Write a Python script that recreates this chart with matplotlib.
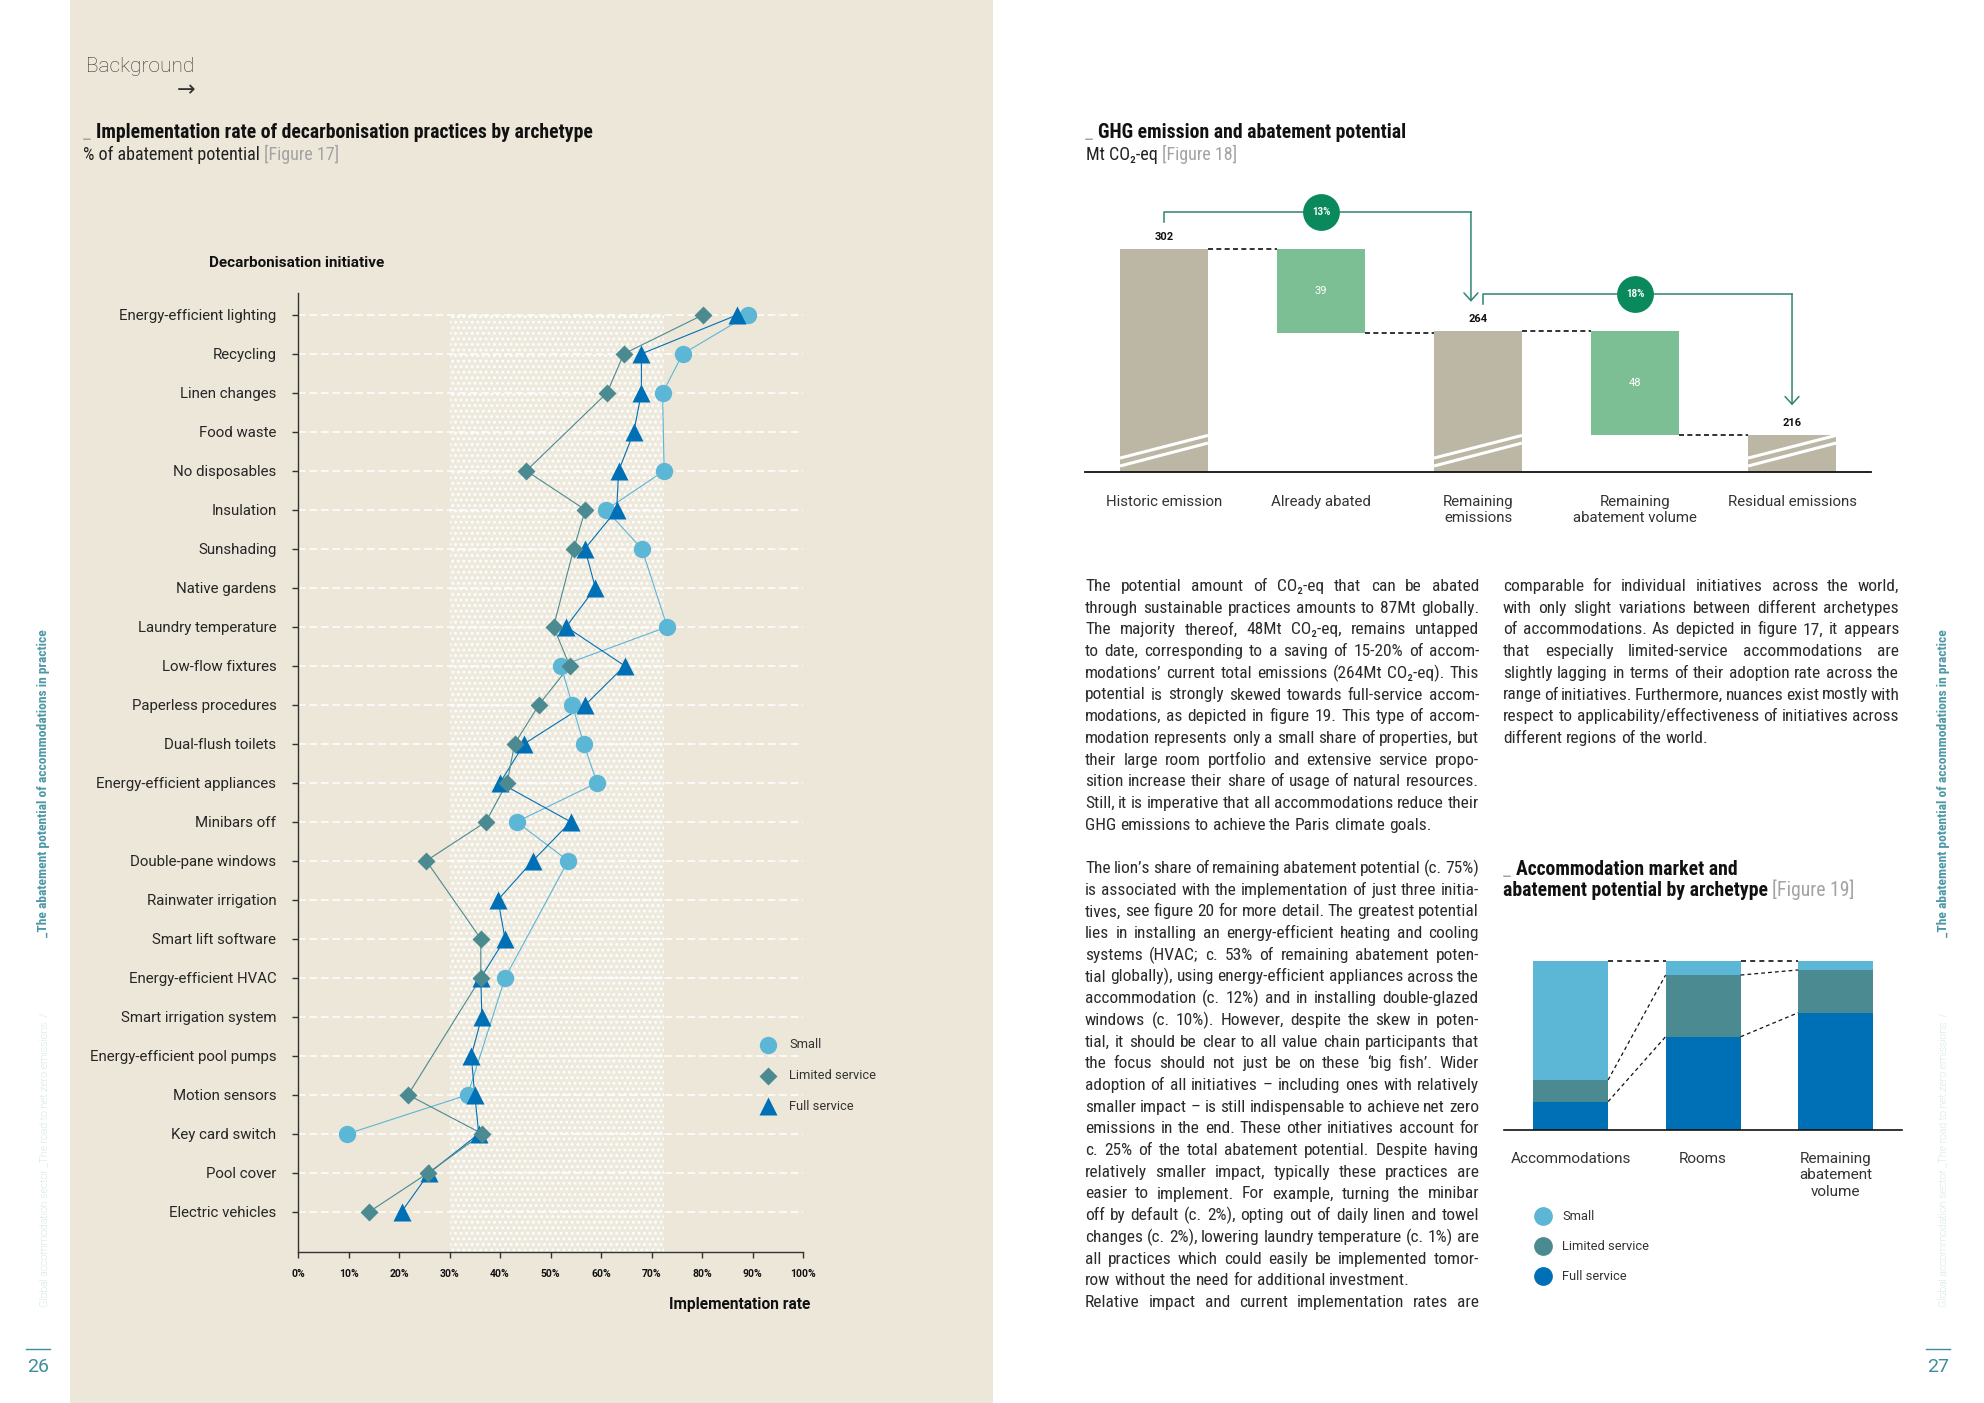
import numpy as np
import matplotlib
matplotlib.use('Agg')
import matplotlib.pyplot as plt
from matplotlib import font_manager
from matplotlib.patches import Rectangle
from matplotlib.lines import Line2D
from matplotlib.transforms import blended_transform_factory

W, H = 1984, 1403
BEIGE = '#EDE7D9'
INK = '#2B2B2B'
GREY = '#A3A3A3'

# ── Figure 17: implementation rate (%) per initiative, nan = no marker ──
INITIATIVES = [
    'Energy-efficient lighting', 'Recycling', 'Linen changes', 'Food waste',
    'No disposables', 'Insulation', 'Sunshading', 'Native gardens',
    'Laundry temperature', 'Low-flow fixtures', 'Paperless procedures',
    'Dual-flush toilets', 'Energy-efficient appliances', 'Minibars off',
    'Double-pane windows', 'Rainwater irrigation', 'Smart lift software',
    'Energy-efficient HVAC', 'Smart irrigation system',
    'Energy-efficient pool pumps', 'Motion sensors', 'Key card switch',
    'Pool cover', 'Electric vehicles',
]
nan = np.nan
SMALL = [89.2, 76.2, 72.2, nan, 72.5, 61.0, 68.1, nan, 73.1, 52.1, 54.3, 56.6,
         59.2, 43.3, 53.5, nan, nan, 41.0, nan, nan, 33.6, 9.8, nan, nan]
LIMITED = [80.2, 64.5, 61.2, nan, 45.2, 56.9, 54.6, nan, 50.6, 53.8, 47.7, 42.9,
           41.4, 37.2, 25.4, nan, 36.2, 36.2, nan, nan, 21.8, 36.5, 25.8, 14.1]
FULL = [87.0, 68.0, 68.0, 66.5, 63.5, 63.1, 56.8, 58.9, 53.1, 64.7, 56.9, 44.8,
        40.0, 54.0, 46.5, 39.6, 41.0, 36.2, 36.4, 34.3, 35.0, 35.8, 26.0, 20.5]
BAND_LO, BAND_HI = 30, 72.5
PCT_TICKS = list(range(0, 101, 10))

# ── Figure 18: GHG emission waterfall (Mt CO2-eq) ──
WF_LABELS = ['Historic emission', 'Already abated', 'Remaining\nemissions',
             'Remaining\nabatement volume', 'Residual emissions']
WF_VALUES = [302, 39, 264, 48, 216]
WF_IS_TOTAL = [True, False, True, False, True]
WF_SHARES = ['13%', '18%']

# ── Figure 19: market share by archetype (%) ──
MKT_LABELS = ['Accommodations', 'Rooms', 'Remaining\nabatement\nvolume']
MKT_FULL = [16.8, 55.2, 69.4]
MKT_LIMITED = [12.8, 36.5, 25.3]
MKT_SMALL = [70.4, 8.3, 5.3]
ARCHETYPES = ['Small', 'Limited service', 'Full service']

COL_SMALL = '#5CB6D5'
COL_LIMITED = '#4B8A91'
COL_FULL = '#0070B6'

PARA_LEFT_1 = [
    "The potential amount of CO\u2082-eq that can be abated",
    "through sustainable practices amounts to 87Mt globally.",
    "The majority thereof, 48Mt CO\u2082-eq, remains untapped",
    "to date, corresponding to a saving of 15-20% of accom-",
    "modations\u2019 current total emissions (264Mt CO\u2082-eq). This",
    "potential is strongly skewed towards full-service accom-",
    "modations, as depicted in figure 19. This type of accom-",
    "modation represents only a small share of properties, but",
    "their large room portfolio and extensive service propo-",
    "sition increase their share of usage of natural resources.",
    "Still, it is imperative that all accommodations reduce their",
    "GHG emissions to achieve the Paris climate goals.",
]
PARA_LEFT_2 = [
    "The lion\u2019s share of remaining abatement potential (c. 75%)",
    "is associated with the implementation of just three initia-",
    "tives, see figure 20 for more detail. The greatest potential",
    "lies in installing an energy-efficient heating and cooling",
    "systems (HVAC; c. 53% of remaining abatement poten-",
    "tial globally), using energy-efficient appliances across the",
    "accommodation (c. 12%) and in installing double-glazed",
    "windows (c. 10%). However, despite the skew in poten-",
    "tial, it should be clear to all value chain participants that",
    "the focus should not just be on these \u2018big fish\u2019. Wider",
    "adoption of all initiatives \u2013 including ones with relatively",
    "smaller impact \u2013 is still indispensable to achieve net zero",
    "emissions in the end. These other initiatives account for",
    "c. 25% of the total abatement potential. Despite having",
    "relatively smaller impact, typically these practices are",
    "easier to implement. For example, turning the minibar",
    "off by default (c. 2%), opting out of daily linen and towel",
    "changes (c. 2%), lowering laundry temperature (c. 1%) are",
    "all practices which could easily be implemented tomor-",
    "row without the need for additional investment.",
]
PARA_LEFT_3 = ["Relative impact and current implementation rates are"]
PARA_RIGHT = [
    "comparable for individual initiatives across the world,",
    "with only slight variations between different archetypes",
    "of accommodations. As depicted in figure 17, it appears",
    "that especially limited-service accommodations are",
    "slightly lagging in terms of their adoption rate across the",
    "range of initiatives. Furthermore, nuances exist mostly with",
    "respect to applicability/effectiveness of initiatives across",
    "different regions of the world.",
]

_names = {f.name for f in font_manager.fontManager.ttflist}


def pick(*cands):
    for c in cands:
        if c in _names:
            return c
    return 'DejaVu Sans'


NARROW = pick('Liberation Sans Narrow', 'Roboto Condensed', 'Liberation Sans')
UI = pick('Roboto', 'Lato', 'Noto Sans')
BODY_FAM = [NARROW, 'DejaVu Sans']
plt.rcParams['hatch.linewidth'] = 1.3

fig = plt.figure(figsize=(W / 100, H / 100), dpi=100)
fig.patch.set_facecolor('white')
renderer = fig.canvas.get_renderer()


def fx(x):
    return x / W


def fy(y):
    return 1 - y / H


def axes_px(x0, y0, x1, y1):
    return fig.add_axes([fx(x0), fy(y1), (x1 - x0) / W, (y1 - y0) / H])


def put(x, y, s, **kw):
    return fig.text(fx(x), fy(y), s, **kw)


def width_of(s, **kw):
    t = fig.text(0, 0, s, **kw)
    w = t.get_window_extent(renderer).width
    t.remove()
    return w


def space_of(**kw):
    return width_of('n n', **kw) - width_of('nn', **kw)


def put_runs(x, y, runs):
    for s, kw in runs:
        t = put(x, y, s, ha='left', va='baseline', **kw)
        x += t.get_window_extent(renderer).width + space_of(**kw)


def justify_block(lines, x0, x1, y0, step, size, last_left=True):
    kw = dict(family=BODY_FAM, size=size, color=INK)
    sp = space_of(**kw)
    for i, line in enumerate(lines):
        words = line.split()
        ws = [width_of(w, **kw) for w in words]
        last = last_left and i == len(lines) - 1
        if last or len(words) < 2:
            gap = sp
        else:
            gap = (x1 - x0 - sum(ws)) / (len(words) - 1)
        x = x0
        for w, wd in zip(words, ws):
            put(x, y0 + i * step, w, ha='left', va='baseline', **kw)
            x += wd + gap


def natural_ratio(lines, width, size, squeeze=0.6):
    kw = dict(family=BODY_FAM, size=size)
    sp = space_of(**kw) * squeeze
    r = 0
    for line in lines:
        words = line.split()
        tot = sum(width_of(w, **kw) for w in words) + sp * (len(words) - 1)
        r = max(r, tot / width)
    return r


# page background
fig.add_artist(Rectangle((fx(70), 0), (993 - 70) / W, 1, transform=fig.transFigure,
                         facecolor=BEIGE, edgecolor='none', zorder=0))

put(86, 66, 'Background', family=UI, weight='light', size=15, color='#333333',
    ha='left', va='center')
put(186, 90, '\u2192', family='DejaVu Sans', size=16, color='#333333',
    ha='center', va='center')

TITLE = dict(family=BODY_FAM, size=14.2, weight='bold', color='#111111')
TITLE_U = dict(family=BODY_FAM, size=14.2, color=GREY)
SUB = dict(family=BODY_FAM, size=13, color='#222222')
SUB_G = dict(family=BODY_FAM, size=13, color=GREY)

# ── Figure 17 ──
put_runs(83, 138, [('_', TITLE_U),
                   ('Implementation rate of decarbonisation practices by archetype', TITLE)])
put_runs(83, 160, [('% of abatement potential', SUB), ('[Figure 17]', SUB_G)])
put(209, 263, 'Decarbonisation initiative', family=UI, weight='bold', size=11,
    color='#111111', ha='left', va='center')

n = len(INITIATIVES)
rows = np.arange(n)
ax = axes_px(298, 293, 803, 1252)
ax.set_facecolor('none')
ax.set_xlim(0, 100)
ax.set_ylim(n - 1 + 1.03, -0.56)
ax.add_patch(Rectangle((BAND_LO, 0), BAND_HI - BAND_LO, n + 1, facecolor='#EEE9DD',
                       edgecolor='white', hatch='...', lw=0, zorder=0.5))
ax.hlines(rows, 0, 100, colors='white', linestyles=(0, (5, 2.5)), lw=1.1, zorder=1)

series = [(SMALL, COL_SMALL, 'o', 12.5, 3), (FULL, COL_FULL, '^', 13, 4),
          (LIMITED, COL_LIMITED, 'D', 9.3, 5)]
for vals, col, mk, ms, z in series:
    arr = np.array(vals, dtype=float)
    m = ~np.isnan(arr)
    ax.plot(arr[m], rows[m], color=col, lw=0.8, zorder=2)
    ax.plot(arr[m], rows[m], ls='none', marker=mk, ms=ms, color=col, mec='none', zorder=z)

ax.set_yticks(rows, INITIATIVES)
ax.set_xticks(PCT_TICKS, [f'{v}%' for v in PCT_TICKS])
ax.tick_params(axis='y', length=4.5, width=1, color='#333333', pad=11,
               labelsize=10.8, labelcolor='#262626')
ax.tick_params(axis='x', length=4, width=1, color='#333333', pad=8,
               labelsize=7.5, labelcolor='#111111')
for lab in ax.get_yticklabels():
    lab.set_family(UI)
for lab in ax.get_xticklabels():
    lab.set_family(UI)
    lab.set_weight('bold')
for s in ('top', 'right'):
    ax.spines[s].set_visible(False)
for s in ('left', 'bottom'):
    ax.spines[s].set_color('#333333')
    ax.spines[s].set_linewidth(1)

put(810, 1304, 'Implementation rate', family=UI, weight='bold', size=11.2,
    color='#111111', ha='right', va='center')

for k, (name, (vals, col, mk, ms, z)) in enumerate(zip(ARCHETYPES, [series[0], series[2], series[1]])):
    yy = 1045 + k * 30.5
    fig.add_artist(Line2D([fx(768)], [fy(yy)], marker=mk, ms=ms, color=col, mec='none',
                          ls='none', transform=fig.transFigure))
    put(789, yy, name, family=UI, size=9.3, color='#333333', ha='left', va='center')

# ── Figure 18 ──
put_runs(1085, 138, [('_', TITLE_U), ('GHG emission and abatement potential', TITLE)])
put_runs(1086, 160, [('Mt CO\u2082-eq', SUB), ('[Figure 18]', SUB_G)])

PX_PER_MT = 2.158
Y_FLOOR = 198.7
ax2 = axes_px(1085, 199, 1871, 472)
ax2.set_facecolor('none')
ax2.set_xlim(-0.503, 4.503)
ax2.set_ylim(Y_FLOOR, Y_FLOOR + (472 - 199) / PX_PER_MT)
bw = 0.56
level = 0
levels = []
for i, (v, tot) in enumerate(zip(WF_VALUES, WF_IS_TOTAL)):
    if tot:
        ax2.bar(i, v, width=bw, color='#BCB7A5', zorder=2)
        level = v
        ax2.annotate(f'{v}', (i, v), xytext=(0, 5), textcoords='offset points',
                     ha='center', va='bottom', family=UI, weight='bold', size=8,
                     color='#111111')
    else:
        ax2.bar(i, v, bottom=level - v, width=bw, color='#7DBF94', zorder=2)
        ax2.text(i, level - v / 2, f'{v}', ha='center', va='center', color='white',
                 family=UI, size=8, zorder=3)
        level = level - v
    levels.append(level)

# axis break marks on total bars
brk = blended_transform_factory(ax2.transData, ax2.transAxes)
for i, tot in enumerate(WF_IS_TOTAL):
    if tot:
        for y0, y1 in [(0.022, 0.106), (0.051, 0.134)]:
            ax2.plot([i - bw / 2, i + bw / 2], [y0, y1], color='white', lw=2.2,
                     transform=brk, zorder=3, solid_capstyle='butt')

for i in range(len(WF_VALUES) - 1):
    ax2.plot([i + bw / 2, i + 1 - bw / 2], [levels[i], levels[i]], color='#111111',
             lw=1.2, ls=(0, (3, 2)), zorder=1)

LINE_GREEN = '#2E8571'
for k, (i, share) in enumerate(zip([0, 2], WF_SHARES)):
    start = WF_VALUES[i] + 12.7
    lvl = start + 4.6
    tip = WF_VALUES[i + 2] + 13.6
    xs = i + (0.03 if k else 0)
    xe = i + 2 - (0 if k else 0.045)
    ax2.plot([xs, xs, xe], [start, lvl, lvl], color=LINE_GREEN, lw=1.1, zorder=4,
             clip_on=False)
    ax2.annotate('', xy=(xe, tip), xytext=(xe, lvl), annotation_clip=False,
                 arrowprops=dict(arrowstyle='->,head_length=0.55,head_width=0.5',
                                 color=LINE_GREEN, lw=1.1, shrinkA=0, shrinkB=0))
    ax2.plot(i + 1, lvl, 'o', ms=26.5, color='#0A8A5C', mec='none', zorder=5,
             clip_on=False)
    ax2.text(i + 1, lvl, share, ha='center', va='center', color='white',
             family=UI, size=7, weight='bold', zorder=6)

ax2.set_xticks(range(len(WF_LABELS)), WF_LABELS)
ax2.set_yticks([])
ax2.tick_params(axis='x', length=0, pad=16.5, labelsize=10.8, labelcolor='#333333')
for lab in ax2.get_xticklabels():
    lab.set_family(UI)
    lab.set_linespacing(1.2)
for s in ('top', 'right', 'left'):
    ax2.spines[s].set_visible(False)
ax2.spines['bottom'].set_linewidth(1.3)
ax2.spines['bottom'].set_color('#111111')

# ── body text ──
BODY_W = 1479 - 1085
size = 12.8
r = natural_ratio(PARA_LEFT_1[:-1] + PARA_LEFT_2[:-1] + PARA_LEFT_3 + PARA_RIGHT[:-1], BODY_W, size)
if r > 1.0:
    size = size / r
STEP = 21.7
justify_block(PARA_LEFT_1, 1085, 1479, 591, STEP, size)
justify_block(PARA_LEFT_2, 1085, 1479, 873, STEP, size)
justify_block(PARA_LEFT_3, 1085, 1479, 873 + 20 * STEP, STEP, size, last_left=False)
justify_block(PARA_RIGHT, 1503, 1899, 591, STEP, size)

# ── Figure 19 ──
put_runs(1503, 875, [('_', TITLE_U), ('Accommodation market and', TITLE)])
put_runs(1503, 896, [('abatement potential by archetype', TITLE), ('[Figure 19]', TITLE_U)])

ax3 = axes_px(1504, 961, 1902, 1130)
ax3.set_facecolor('none')
ax3.set_xlim(-0.502, 2.5)
ax3.set_ylim(0, 100)
xb = np.arange(len(MKT_LABELS))
full = np.array(MKT_FULL)
lim = np.array(MKT_LIMITED)
sml = np.array(MKT_SMALL)
bw3 = 0.566
ax3.bar(xb, full, width=bw3, color=COL_FULL, zorder=2)
ax3.bar(xb, lim, bottom=full, width=bw3, color=COL_LIMITED, zorder=2)
ax3.bar(xb, sml, bottom=full + lim, width=bw3, color=COL_SMALL, zorder=2)
cum = np.vstack([full, full + lim, full + lim + sml])
for i in range(len(xb) - 1):
    for j in range(3):
        ax3.plot([i + bw3 / 2, i + 1 - bw3 / 2], [cum[j, i], cum[j, i + 1]],
                 color='#111111', lw=0.9 if j < 2 else 1.2, ls=(0, (3, 2.5)),
                 zorder=3, clip_on=False)
ax3.set_xticks(xb, MKT_LABELS)
ax3.set_yticks([])
ax3.tick_params(axis='x', length=0, pad=16, labelsize=11, labelcolor='#333333')
for lab in ax3.get_xticklabels():
    lab.set_family(UI)
    lab.set_linespacing(1.2)
for s in ('top', 'right', 'left'):
    ax3.spines[s].set_visible(False)
ax3.spines['bottom'].set_linewidth(1.2)
ax3.spines['bottom'].set_color('#111111')

for k, (name, col) in enumerate(zip(ARCHETYPES, [COL_SMALL, COL_LIMITED, COL_FULL])):
    yy = 1216 + k * 30
    fig.add_artist(Line2D([fx(1543)], [fy(yy)], marker='o', ms=13.5, color=col,
                          mec='none', ls='none', transform=fig.transFigure))
    put(1562, yy, name, family=UI, size=9.3, color='#333333', ha='left', va='center')

# ── margins: running headers and page numbers ──
for xm, num in [(44, '26'), (1943, '27')]:
    put(xm, 1307, 'Global accommodation sector _The road to net zero emissions  /',
        rotation=90, rotation_mode='anchor', ha='left', va='center', family=UI,
        weight='light', size=7.6, color='#B3CCD0')
    put(xm, 937, '_The abatement potential of accommodations in practice',
        rotation=90, rotation_mode='anchor', ha='left', va='center', family=BODY_FAM,
        weight='bold', size=9.7, color='#4C98A4')
    xn = xm - 6 if num == '26' else xm - 5
    put(xn, 1367, num, ha='center', va='center', family=UI, size=14, color='#3E8EA0')
    fig.add_artist(Line2D([fx(xn - 12), fx(xn + 12)], [fy(1349), fy(1349)],
                          color='#3E8EA0', lw=1, transform=fig.transFigure))

fig.savefig('out.png', dpi=100, facecolor='white')
